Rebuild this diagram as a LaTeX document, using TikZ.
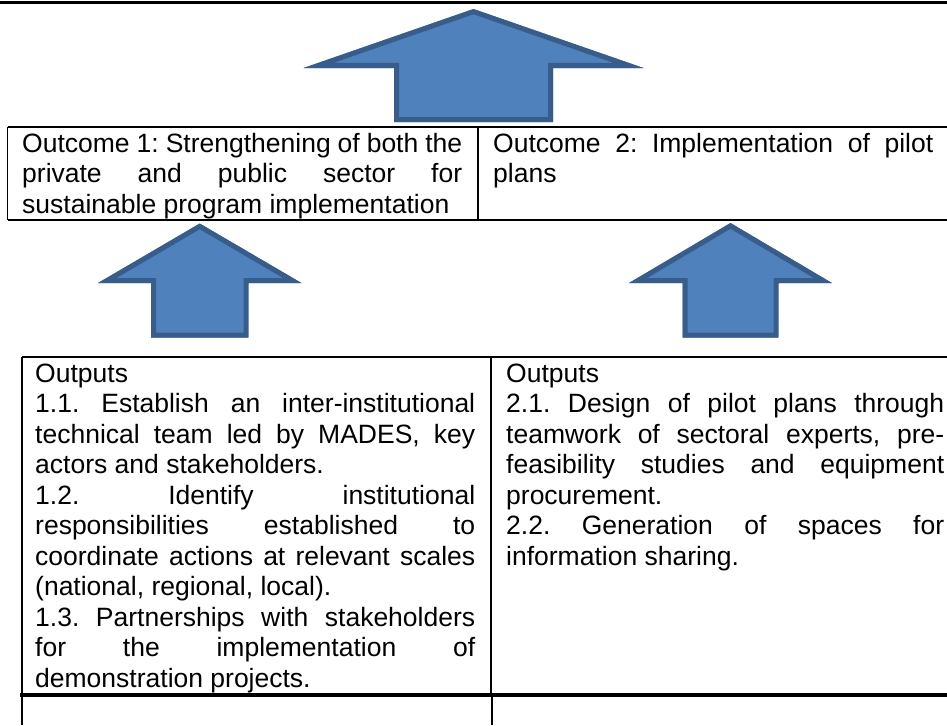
\documentclass[tikz,border=0pt]{standalone}
\usepackage{fontspec}
\setmainfont{Liberation Sans}
\definecolor{arrowfill}{HTML}{4F81BD}
\definecolor{arrowline}{HTML}{385D8A}
\newcommand{\cellfont}{\fontsize{26.5}{30.5}\selectfont\frenchspacing
  \tolerance=10000\relax\hbadness=10000\relax\hyphenpenalty=10000\relax\exhyphenpenalty=10000\relax}
\tikzset{
  celltext/.style={anchor=base west, inner sep=0pt, text width=440pt, align=justify, font=\cellfont},
  tablerule/.style={line width=1.6pt, black},
  thickrule/.style={line width=3.2pt, black},
  arrowfillstyle/.style={fill=arrowfill},
  arrowborder/.style={draw=arrowline, line width=10pt, line join=miter},
}
% #1 centre x, #2 tip y, #3 head base y, #4 bottom y, #5 head half width, #6 shaft half width
\newcommand{\blockarrow}[6]{%
  \begin{scope}
    \clip (#1,#2) -- (#1+#5,#3) -- (#1+#6,#3) -- (#1+#6,#4) -- (#1-#6,#4) -- (#1-#6,#3) -- (#1-#5,#3) -- cycle;
    \fill[arrowfillstyle] (#1,#2) -- (#1+#5,#3) -- (#1+#6,#3) -- (#1+#6,#4) -- (#1-#6,#4) -- (#1-#6,#3) -- (#1-#5,#3) -- cycle;
    \draw[arrowborder] (#1,#2) -- (#1+#5,#3) -- (#1+#6,#3) -- (#1+#6,#4) -- (#1-#6,#4) -- (#1-#6,#3) -- (#1-#5,#3) -- cycle;
  \end{scope}}
\begin{document}
\begin{tikzpicture}[x=1pt,y=-1pt]
\useasboundingbox (0,0) rectangle (947,725);
% top rule
\draw[thickrule] (0,2.5) -- (947,2.5);
% big arrow to top
\blockarrow{473.5}{9}{68}{122}{170}{79.5}
% outcome table
\draw[tablerule] (7.5,127) -- (947,127);
\draw[tablerule] (7.5,220) -- (947,220);
\draw[tablerule] (7.5,127) -- (7.5,220);
\draw[tablerule] (478,127) -- (478,220);
\node[celltext] (out1) at (22,152) {Outcome 1: Strengthening of both the\linebreak private and public sector for\linebreak sustainable program implementation};
\node[celltext] (out2) at (493,152) {Outcome 2: Implementation of pilot\linebreak plans};
% small arrows
\blockarrow{199.75}{223.5}{283}{337.5}{101.75}{48.75}
\blockarrow{730.5}{223}{283}{337.5}{101.5}{48}
% outputs table
\draw[tablerule] (21.7,357) -- (947,357);
\draw[tablerule] (21.7,357) -- (21.7,725);
\draw[tablerule] (491,357) -- (491,695);
\draw[tablerule] (492,695) -- (492,725);
\draw[thickrule] (20,695) -- (947,695);
\node[celltext] (outp1) at (35,382) {Outputs\\
1.1. Establish an inter-institutional\linebreak technical team led by MADES, key\linebreak actors and stakeholders.\\
1.2. Identify institutional\linebreak responsibilities established to\linebreak coordinate actions at relevant scales\linebreak (national, regional, local).\\
1.3. Partnerships with stakeholders\linebreak for the implementation of\linebreak demonstration projects.};
\node[celltext, text width=438pt] (outp2) at (506,382) {Outputs\\
2.1. Design of pilot plans through\linebreak teamwork of sectoral experts, pre-\linebreak feasibility studies and equipment\linebreak procurement.\\
2.2. Generation of spaces for\linebreak information sharing.};
\end{tikzpicture}
\end{document}
